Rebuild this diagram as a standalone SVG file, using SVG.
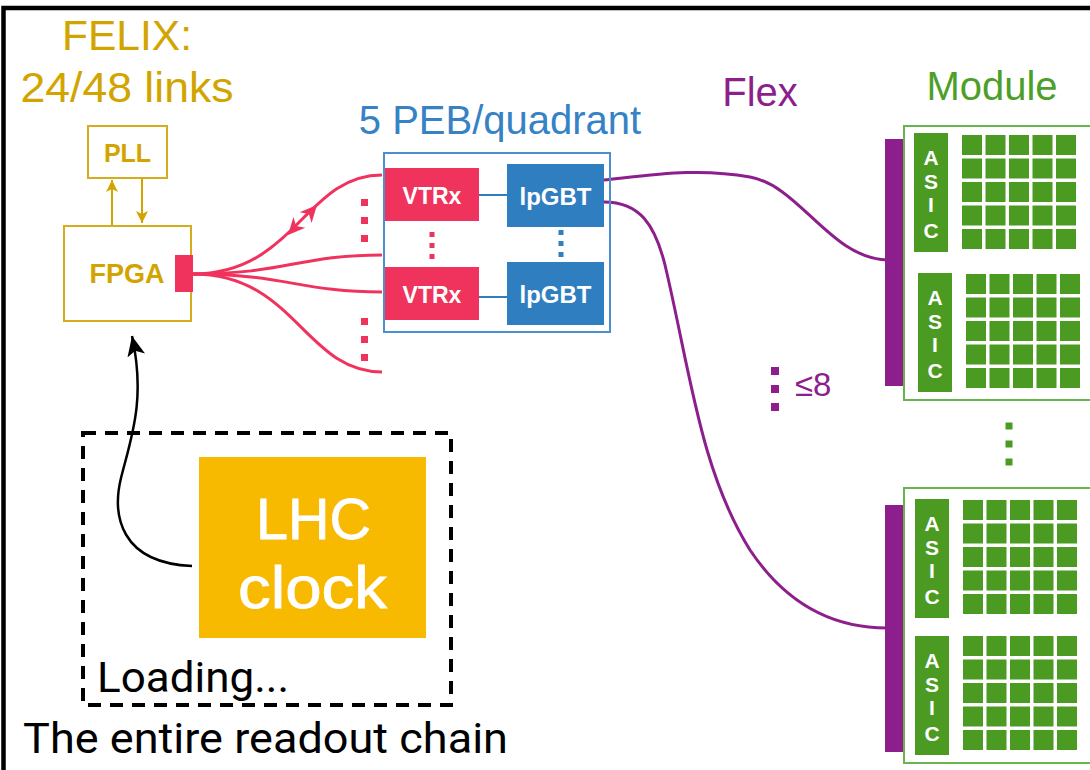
<svg xmlns="http://www.w3.org/2000/svg" xmlns:xlink="http://www.w3.org/1999/xlink" width="1090" height="770" viewBox="0 0 1090 770">
  <style>
    .sans { font-family: "Liberation Sans", Arial, sans-serif; }
    .title { font-size: 40px; }
    .gold { fill: #D2A400; }
    .goldbox { fill: #FFFFFF; stroke: #D6AC1E; stroke-width: 2; }
    .goldline { stroke: #D2A400; stroke-width: 2; fill: none; }
    .pink { fill: #F0335C; }
    .pinkline { stroke: #F0335C; stroke-width: 3; fill: none; }
    .blue { fill: #2F7EC0; }
    .purple { fill: #8C1F8C; }
    .purpleline { stroke: #8C1F8C; stroke-width: 3; fill: none; }
    .green { fill: #4B9A22; }
    .modbox { fill: #FFFFFF; stroke: #6AB44C; stroke-width: 2; }
    .wtext { fill: #FFFFFF; font-weight: bold; text-anchor: middle; }
    .wplain { fill: #FFFFFF; font-weight: normal; text-anchor: middle; stroke: #FFFFFF; stroke-width: 0.8; }
    .body { font-family: Roboto, "Liberation Sans", sans-serif; fill: #000000; }
  </style>
  <defs>
    <marker id="gold-head" viewBox="0 0 12 12" refX="12" refY="6" markerWidth="12" markerHeight="12" markerUnits="userSpaceOnUse" orient="auto">
      <path d="M0,0 L12,6 L0,12 L3,6 Z" fill="#D2A400"/>
    </marker>
    <marker id="black-head" viewBox="0 0 20 18" refX="20" refY="9" markerWidth="20" markerHeight="18" markerUnits="userSpaceOnUse" orient="auto">
      <path d="M0,0 L20,9 L0,18 L5,9 Z" fill="#000000"/>
    </marker>
    <!-- 5x5 pixel matrix of a sensor -->
    <g id="pixels" class="green">
      <rect x="0" y="0" width="20" height="20"/><rect x="23.5" y="0" width="20" height="20"/><rect x="47" y="0" width="20" height="20"/><rect x="70.5" y="0" width="20" height="20"/><rect x="94" y="0" width="20" height="20"/>
      <rect x="0" y="23.5" width="20" height="20"/><rect x="23.5" y="23.5" width="20" height="20"/><rect x="47" y="23.5" width="20" height="20"/><rect x="70.5" y="23.5" width="20" height="20"/><rect x="94" y="23.5" width="20" height="20"/>
      <rect x="0" y="47" width="20" height="20"/><rect x="23.5" y="47" width="20" height="20"/><rect x="47" y="47" width="20" height="20"/><rect x="70.5" y="47" width="20" height="20"/><rect x="94" y="47" width="20" height="20"/>
      <rect x="0" y="70.5" width="20" height="20"/><rect x="23.5" y="70.5" width="20" height="20"/><rect x="47" y="70.5" width="20" height="20"/><rect x="70.5" y="70.5" width="20" height="20"/><rect x="94" y="70.5" width="20" height="20"/>
      <rect x="0" y="94" width="20" height="20"/><rect x="23.5" y="94" width="20" height="20"/><rect x="47" y="94" width="20" height="20"/><rect x="70.5" y="94" width="20" height="20"/><rect x="94" y="94" width="20" height="20"/>
    </g>
    <!-- vertical ASIC chip with stacked letters -->
    <g id="asic">
      <rect x="0" y="0" width="34" height="119" class="green"/>
      <g class="sans wtext" font-size="21">
        <text x="17" y="32">A</text>
        <text x="17" y="56">S</text>
        <text x="17" y="79">I</text>
        <text x="17" y="105">C</text>
      </g>
    </g>
    <path id="arrowtip" d="M0,0 L-17,-8 L-12,0 L-17,8 Z"/>
  </defs>

  <rect width="1090" height="770" fill="#FFFFFF"/>
  <!-- outer frame -->
  <rect x="3.5" y="8" width="1200" height="900" fill="none" stroke="#000000" stroke-width="4.5"/>

  <!-- connectors -->
  <g id="connectors">
    <!-- PLL <-> FPGA -->
    <line x1="112" y1="226" x2="112" y2="180" class="goldline" marker-end="url(#gold-head)"/>
    <line x1="142" y1="178" x2="142" y2="223" class="goldline" marker-end="url(#gold-head)"/>
    <!-- optical links FPGA -> VTRx -->
    <path d="M193,274 C295,274 305,175 382,175" class="pinkline"/>
    <path d="M193,274 C285,274 300,255 382,255" class="pinkline"/>
    <path d="M193,274 C285,274 300,292 382,292" class="pinkline"/>
    <path d="M193,274 C295,274 305,372 382,372" class="pinkline"/>
    <use xlink:href="#arrowtip" transform="translate(317,205) rotate(-48)" class="pink"/>
    <use xlink:href="#arrowtip" transform="translate(288,235) rotate(132)" class="pink"/>
    <!-- VTRx - lpGBT -->
    <line x1="479" y1="195" x2="507" y2="195" stroke="#2F7EC0" stroke-width="2"/>
    <line x1="479" y1="297" x2="507" y2="297" stroke="#2F7EC0" stroke-width="2"/>
    <!-- flex cables -->
    <path d="M604,180 C660,174 700,168 750,177 C800,186 830,258 887,260" class="purpleline"/>
    <path d="M604,202 C640,202 655,225 665,265 C690,370 700,470 750,550 C790,610 840,628 887,628" class="purpleline"/>
    <!-- clock distribution -->
    <path d="M192,566 C120,563 112,515 121,478 C131,438 146,400 132,336" fill="none" stroke="#000000" stroke-width="2.5" marker-end="url(#black-head)"/>
  </g>

  <!-- FELIX -->
  <g id="felix">
    <text x="127" y="50" class="sans gold" font-size="43" text-anchor="middle" textLength="130" lengthAdjust="spacingAndGlyphs">FELIX:</text>
    <text x="127" y="102" class="sans gold" font-size="43" text-anchor="middle" textLength="213" lengthAdjust="spacingAndGlyphs">24/48 links</text>
  </g>
  <g id="pll">
    <rect x="88" y="126" width="79" height="52" class="goldbox"/>
    <text x="127.5" y="162" class="sans gold" font-size="25" font-weight="bold" text-anchor="middle">PLL</text>
  </g>
  <g id="fpga">
    <rect x="64" y="226" width="127" height="95" class="goldbox"/>
    <text x="127" y="283" class="sans gold" font-size="27" font-weight="bold" text-anchor="middle">FPGA</text>
    <rect x="175" y="255" width="18" height="37" class="pink"/>
  </g>

  <!-- link fan-out ellipsis -->
  <g id="link-dots" class="pink">
    <rect x="361" y="199" width="7" height="7"/><rect x="361" y="217" width="7" height="7"/><rect x="361" y="235" width="7" height="7"/>
    <rect x="361" y="318" width="7" height="7"/><rect x="361" y="336" width="7" height="7"/><rect x="361" y="354" width="7" height="7"/>
  </g>

  <!-- PEB -->
  <g id="peb">
    <text x="500" y="134" class="sans title" fill="#3582C4" text-anchor="middle">5 PEB/quadrant</text>
    <rect x="384" y="153" width="226" height="179" fill="none" stroke="#4A8FCF" stroke-width="2"/>
    <g id="vtrx1">
      <rect x="385" y="168" width="94" height="53" class="pink"/>
      <text x="432" y="204" class="sans wtext" font-size="23">VTRx</text>
    </g>
    <g id="vtrx2">
      <rect x="385" y="267" width="94" height="53" class="pink"/>
      <text x="432" y="303" class="sans wtext" font-size="23">VTRx</text>
    </g>
    <g id="lpgbt1">
      <rect x="507" y="164" width="97" height="63" class="blue"/>
      <text x="555.5" y="205" class="sans wtext" font-size="24">lpGBT</text>
    </g>
    <g id="lpgbt2">
      <rect x="507" y="262" width="97" height="63" class="blue"/>
      <text x="555.5" y="303" class="sans wtext" font-size="24">lpGBT</text>
    </g>
    <g class="pink">
      <rect x="429.5" y="232" width="5" height="5"/><rect x="429.5" y="243" width="5" height="5"/><rect x="429.5" y="254" width="5" height="5"/>
    </g>
    <g class="blue">
      <rect x="558.5" y="230" width="5" height="5"/><rect x="558.5" y="241" width="5" height="5"/><rect x="558.5" y="252" width="5" height="5"/>
    </g>
  </g>

  <!-- Flex label -->
  <g id="flex-label">
    <text x="760" y="106" class="sans title purple" text-anchor="middle">Flex</text>
    <g class="purple">
      <rect x="771" y="367" width="8" height="8"/><rect x="771" y="385" width="8" height="8"/><rect x="771" y="403" width="8" height="8"/>
    </g>
    <text x="795" y="396" class="sans purple" font-size="33">≤8</text>
  </g>

  <!-- modules -->
  <text x="992" y="100" class="sans title" fill="#4E9F2A" text-anchor="middle">Module</text>
  <g id="module1">
    <rect x="904" y="126" width="200" height="274" class="modbox"/>
    <rect x="885" y="139" width="18" height="247" class="purple"/>
    <use xlink:href="#asic" x="914" y="133"/>
    <use xlink:href="#pixels" x="962" y="135"/>
    <use xlink:href="#asic" x="918" y="273"/>
    <use xlink:href="#pixels" x="966" y="274"/>
  </g>
  <g id="module-dots" class="green">
    <rect x="1005.5" y="422.5" width="7" height="7"/><rect x="1005.5" y="440.5" width="7" height="7"/><rect x="1005.5" y="458.5" width="7" height="7"/>
  </g>
  <g id="module2">
    <rect x="904" y="488" width="200" height="275" class="modbox"/>
    <rect x="885" y="505" width="18" height="247" class="purple"/>
    <use xlink:href="#asic" x="915" y="499"/>
    <use xlink:href="#pixels" x="963" y="500"/>
    <use xlink:href="#asic" x="915" y="636"/>
    <use xlink:href="#pixels" x="963" y="636"/>
  </g>

  <!-- clock -->
  <g id="loading">
    <rect x="83" y="433" width="368" height="272" fill="none" stroke="#000000" stroke-width="4" stroke-dasharray="13 9"/>
    <text x="97" y="692" class="body" font-size="42" textLength="192" lengthAdjust="spacingAndGlyphs">Loading...</text>
  </g>
  <g id="lhc-clock">
    <rect x="199" y="457" width="227" height="181" fill="#F8BA00"/>
    <text x="313.5" y="539" class="sans wplain" font-size="58" textLength="115" lengthAdjust="spacingAndGlyphs">LHC</text>
    <text x="312.5" y="608" class="sans wplain" font-size="60" textLength="149" lengthAdjust="spacingAndGlyphs">clock</text>
  </g>

  <text x="23" y="753" class="body" font-size="42" textLength="485" lengthAdjust="spacingAndGlyphs">The entire readout chain</text>
</svg>
